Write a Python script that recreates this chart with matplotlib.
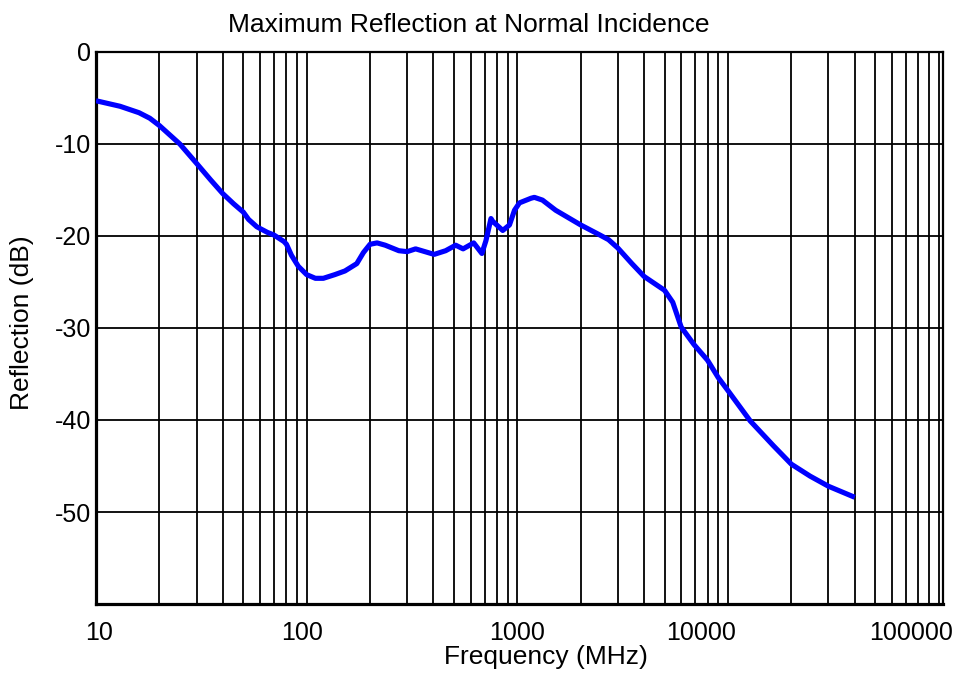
import matplotlib
matplotlib.use("Agg")
import matplotlib.pyplot as plt
import matplotlib.transforms as mtransforms
from matplotlib.ticker import FixedLocator, NullFormatter

plt.rcParams['font.family'] = ['Liberation Sans', 'DejaVu Sans']

# datos
freq_mhz = [10, 13, 16, 18, 20, 25, 30, 35, 40, 45, 50, 53, 58, 65, 70, 78, 80.2,
            84.7, 91.3, 100, 110, 120, 136, 152, 173, 186, 200, 216, 236, 274,
            300, 329, 403, 457, 510, 553, 621, 679, 710, 750, 764, 853, 918,
            970, 1024, 1161, 1205, 1317, 1521, 2000, 2470, 2711, 3000, 3500,
            4000, 5000, 5470, 6000, 6900, 8000, 9000, 10000, 12760, 16450,
            20000, 24550, 30000, 40000]
reflection_db = [-5.3, -5.9, -6.6, -7.2, -8.0, -10.0, -12.1, -13.9, -15.4, -16.5,
                 -17.4, -18.2, -19.0, -19.6, -19.9, -20.6, -20.9, -22.1, -23.3,
                 -24.2, -24.6, -24.6, -24.2, -23.8, -23.0, -21.8, -20.9, -20.75,
                 -21.0, -21.6, -21.7, -21.4, -22.0, -21.6, -21.0, -21.4, -20.75,
                 -21.9, -20.5, -18.1, -18.4, -19.4, -18.8, -17.2, -16.4, -15.9,
                 -15.8, -16.1, -17.2, -18.8, -19.9, -20.4, -21.3, -23.0,
                 -24.4, -25.9, -27.2, -29.9, -31.8, -33.5, -35.4, -36.8, -40.1,
                 -42.8, -44.8, -46.1, -47.2, -48.4]

x_major = [10, 100, 1000, 10000, 100000]
x_labels = ['10', '100', '1000', '10000', '100000']
x_minor = [m * d for d in [10, 100, 1000, 10000] for m in range(2, 10)]
y_ticks = [0, -10, -20, -30, -40, -50]
y_labels = ['0', '-10', '-20', '-30', '-40', '-50']

fig = plt.figure(figsize=(9.67, 6.76), dpi=100)
ax = fig.add_axes([0.0993, 0.1065, 0.8759, 0.8166])

ax.plot(freq_mhz, reflection_db, color='#0000ff', linewidth=3.7,
        solid_joinstyle='round', solid_capstyle='butt', zorder=3)

ax.set_xscale('log')
ax.set_xlim(10, 105000)
ax.set_ylim(-60, 0)

ax.xaxis.set_major_locator(FixedLocator(x_major))
ax.set_xticklabels(x_labels)
ax.xaxis.set_minor_locator(FixedLocator(x_minor))
ax.xaxis.set_minor_formatter(NullFormatter())
ax.set_yticks(y_ticks)
ax.set_yticklabels(y_labels)

ax.tick_params(axis='both', which='both', length=0, labelsize=18)
ax.tick_params(axis='x', pad=12)
ax.tick_params(axis='y', pad=3.5)

# las etiquetas del eje x del original no quedan centradas en su linea
shifts_px = [3, -5, 0, -27, -27]
for lab, dx in zip(ax.get_xticklabels(), shifts_px):
    lab.set_transform(lab.get_transform() +
                      mtransforms.ScaledTranslation(dx / 100, 0, fig.dpi_scale_trans))

ax.grid(True, which='both', color='black', linewidth=1.3)

for side in ['left', 'bottom']:
    ax.spines[side].set_linewidth(2.3)
for side in ['top', 'right']:
    ax.spines[side].set_linewidth(1.6)

ax.set_title('Maximum Reflection at Normal Incidence', fontsize=19,
             x=0.4404, pad=14.4)
ax.set_xlabel('Frequency (MHz)', fontsize=19, va='baseline')
ax.xaxis.set_label_coords(0.531, -0.1087)
ax.set_ylabel('Reflection (dB)', fontsize=19, va='center')
ax.yaxis.set_label_coords(-0.0874, 0.509)

fig.savefig('out.png', dpi=100)
